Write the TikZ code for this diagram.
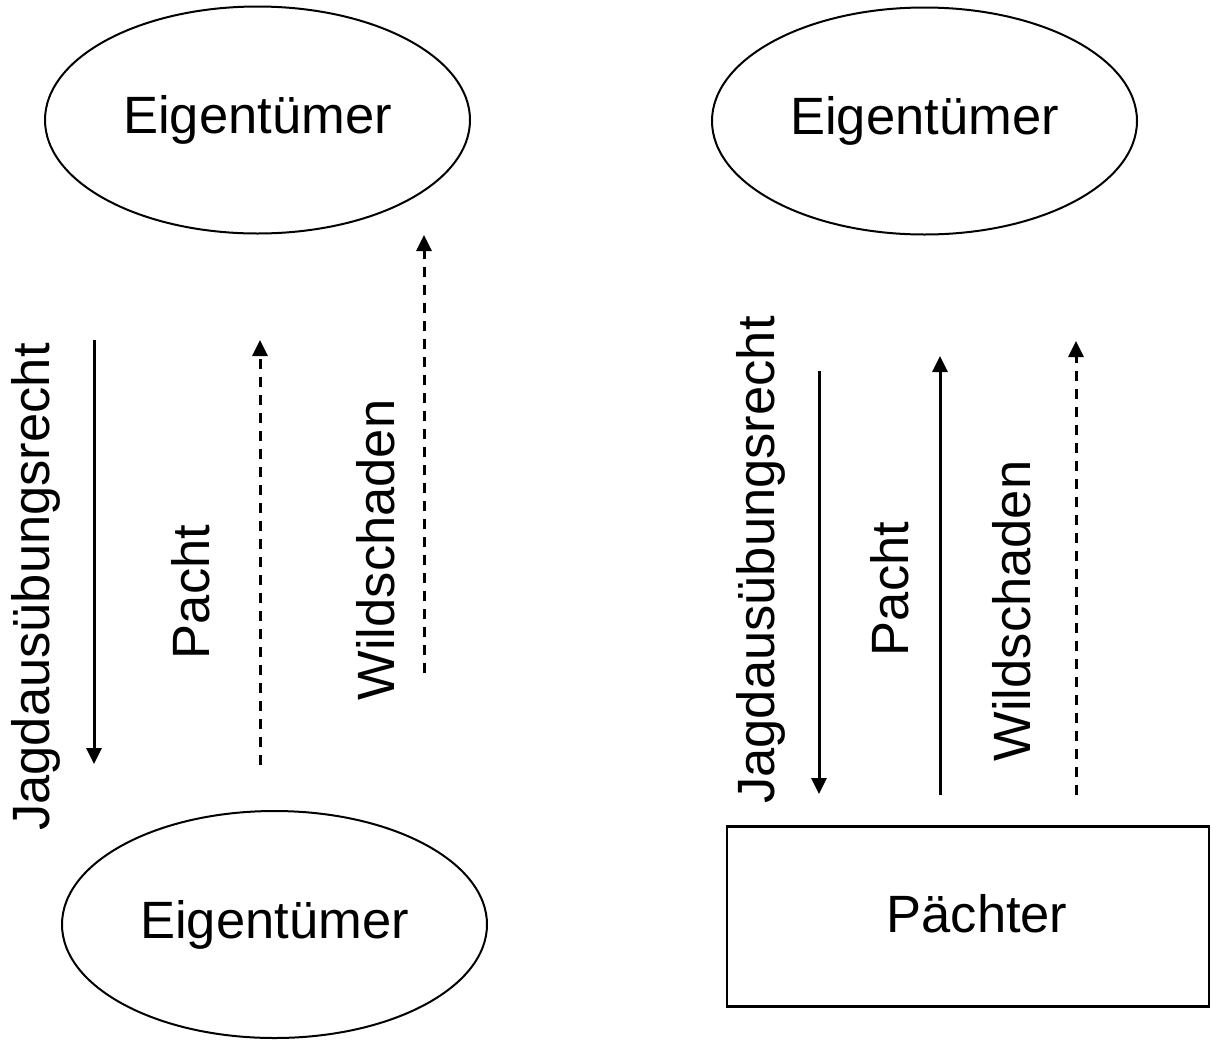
\documentclass[tikz,border=0pt]{standalone}
\usepackage{fontspec}
\setmainfont{Liberation Sans}
\usetikzlibrary{shapes.geometric,arrows.meta}
\begin{document}
\begin{tikzpicture}[x=1pt,y=-1pt,
  txt/.style={font=\fontsize{52.5}{60}\selectfont, inner sep=0pt},
  ell/.style={ellipse, draw, line width=2pt, minimum width=425pt, minimum height=227pt, inner sep=0pt, txt},
  box/.style={rectangle, draw, line width=2.5pt, minimum width=482pt, minimum height=180pt, inner sep=0pt},
  lab/.style={txt, rotate=90},
  flow/.style={line width=3pt, -{Triangle[width=15pt,length=16pt]}},
  dflow/.style={flow, dash pattern=on 10pt off 8pt}]
\useasboundingbox (0,0) rectangle (1212,1039);

% left side
\node[ell] (e1) at (257.5,120) {Eigentümer};
\node[ell] (e2) at (274.5,924.5) {Eigentümer};
\coordinate (l1a) at (94,340);  \coordinate (l1b) at (94,764);
\coordinate (l2a) at (260,765); \coordinate (l2b) at (260,340);
\coordinate (l3a) at (424,673); \coordinate (l3b) at (424,235);
\draw[flow] (l1a) -- (l1b);
\draw[dflow] (l2a) -- (l2b);
\draw[dflow] (l3a) -- (l3b);
\node[lab] (lj) at (36,587) {Jagdausübungsrecht};
\node[lab] (lp) at (191,592) {Pacht};
\node[lab] (lw) at (376,550) {Wildschaden};

% right side
\node[ell] (e3) at (924.5,121) {Eigentümer};
\node[box] (pa) at (968,916.5) {};
\node[txt] (pat) at (977,914) {Pächter};
\coordinate (r1a) at (819,371);  \coordinate (r1b) at (819,794);
\coordinate (r2a) at (940,795);  \coordinate (r2b) at (940,356);
\coordinate (r3a) at (1076,795); \coordinate (r3b) at (1076,341);
\draw[flow] (r1a) -- (r1b);
\draw[flow] (r2a) -- (r2b);
\draw[dflow] (r3a) -- (r3b);
\node[lab] (rj) at (761,560) {Jagdausübungsrecht};
\node[lab] (rp) at (890,589) {Pacht};
\node[lab] (rw) at (1012,611) {Wildschaden};
\end{tikzpicture}
\end{document}
